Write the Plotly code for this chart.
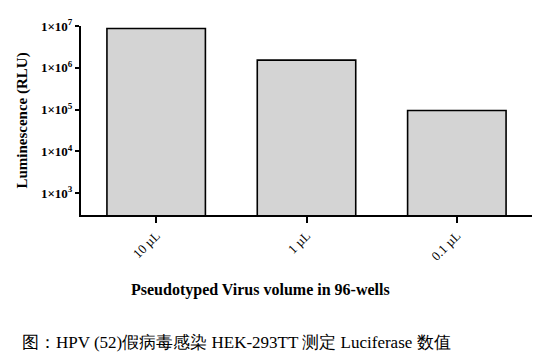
import plotly.graph_objects as go

categories = ["10 µL", "1 µL", "0.1 µL"]
luminescence = [8.7e6, 1.53e6, 9.5e4]
ytick_vals = [1e3, 1e4, 1e5, 1e6, 1e7]
ytick_text = ["1×10<sup>3</sup>", "1×10<sup>4</sup>", "1×10<sup>5</sup>", "1×10<sup>6</sup>", "1×10<sup>7</sup>"]
x_title = "Pseudotyped Virus volume in 96-wells"
y_title = "Luminescence (RLU)"
caption = "图：HPV (52)假病毒感染 HEK-293TT 测定 Luciferase 数值"

serif = "Liberation Serif"

fig = go.Figure(go.Bar(
    x=categories, y=luminescence,
    marker=dict(color="#d4d4d4", line=dict(color="black", width=1.6)),
    width=0.655,
))

fig.update_layout(
    width=549, height=364,
    margin=dict(l=81, r=17, t=26, b=149),
    paper_bgcolor="white", plot_bgcolor="white",
    showlegend=False,
    font=dict(family=serif, color="black"),
    xaxis=dict(
        range=[-0.5, 2.5], showline=True, linecolor="black", linewidth=2,
        ticks="outside", ticklen=6, tickwidth=1.5, tickcolor="black",
        tickangle=-45, tickfont=dict(size=13, family=serif),
        showgrid=False, zeroline=False, automargin=False,
    ),
    yaxis=dict(
        type="log", range=[2.48, 7.0], showline=True, linecolor="black", linewidth=2,
        ticks="outside", ticklen=4, tickwidth=1.5, tickcolor="black",
        tickvals=ytick_vals, ticktext=["<b>" + t + "</b>" for t in ytick_text],
        tickfont=dict(size=13, family=serif),
        title=dict(text="<b>" + y_title + "</b>", font=dict(size=15, family=serif), standoff=10),
        showgrid=False, zeroline=False, automargin=False,
    ),
    annotations=[
        dict(
            text="<b>" + x_title + "</b>", xref="paper", yref="paper",
            x=0.397, xanchor="center", y=0, yshift=-75, yanchor="middle",
            showarrow=False, font=dict(size=16, family=serif, color="black"),
        ),
        dict(
            text=caption, xref="paper", yref="paper", x=0, xanchor="left",
            xshift=-61, y=0, yshift=-127, yanchor="middle", showarrow=False,
            font=dict(size=17, family=serif, color="black"),
        ),
    ],
)

fig.write_html("out.html", config={"displayModeBar": False},
               post_script="document.body.style.margin='0';")
